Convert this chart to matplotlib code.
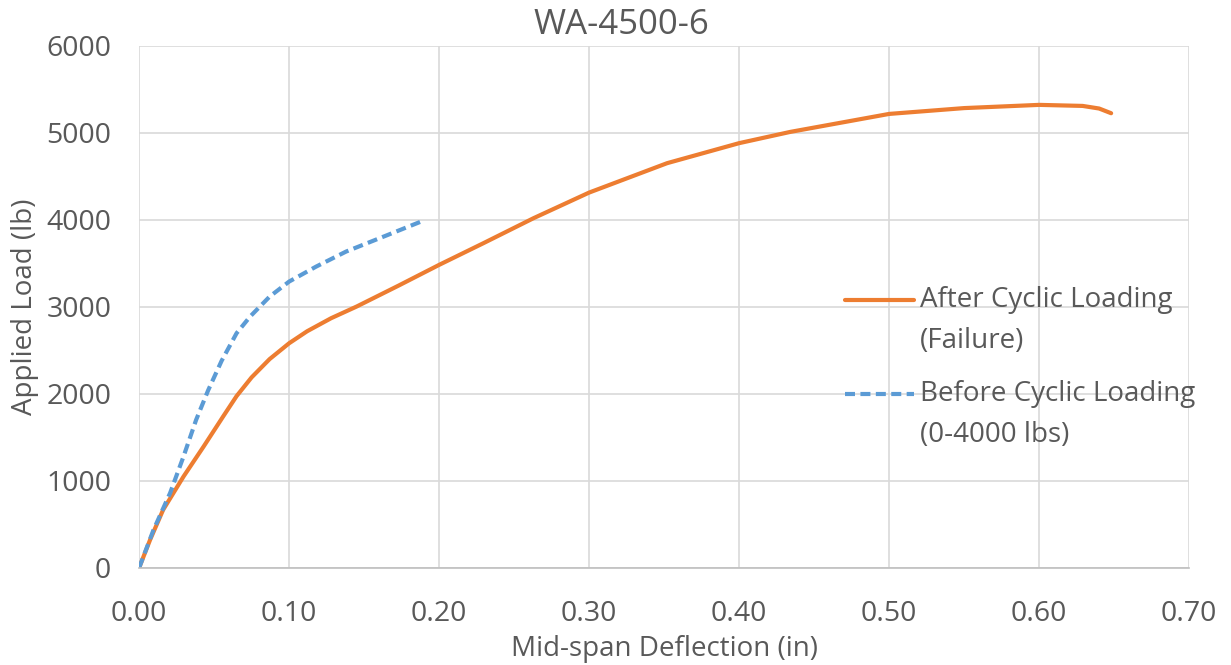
import matplotlib
matplotlib.use("Agg")
import numpy as np
import matplotlib.pyplot as plt
from matplotlib.ticker import FormatStrFormatter
from matplotlib.legend_handler import HandlerLine2D

plt.rcParams['font.family'] = ['Open Sans', 'DejaVu Sans']

# after cyclic loading (failure)
after_defl = [0.0, 0.0073, 0.016, 0.0296, 0.043, 0.056, 0.065, 0.075, 0.087, 0.100, 0.112,
              0.128, 0.145, 0.173, 0.200, 0.2295, 0.263, 0.30, 0.352, 0.40, 0.434, 0.50,
              0.55, 0.60, 0.629, 0.640, 0.648]
after_load = [0, 322, 667, 1050, 1395, 1740, 1975, 2190, 2400, 2582, 2720,
              2870, 3004, 3245, 3483, 3732, 4020, 4314, 4652, 4882, 5011, 5218,
              5285, 5322, 5310, 5280, 5226]

# before cyclic loading (0-4000 lbs)
before_defl = [0.0, 0.0096, 0.0207, 0.0296, 0.038, 0.046, 0.055, 0.065, 0.074, 0.087,
               0.100, 0.118, 0.138, 0.163, 0.188]
before_load = [0, 437, 862, 1280, 1701, 2040, 2380, 2698, 2889, 3118,
               3291, 3463, 3636, 3808, 3981]

txt = '#595959'


class FirstLineHandler(HandlerLine2D):
    # put the legend line next to the first text line, like excel does
    def __init__(self, dy, **kw):
        super().__init__(**kw)
        self.dy = dy

    def create_artists(self, legend, orig_handle, xdescent, ydescent, width, height,
                       fontsize, trans):
        arts = super().create_artists(legend, orig_handle, xdescent, ydescent, width,
                                      height, fontsize, trans)
        for a in arts:
            a.set_ydata(np.asarray(a.get_ydata()) + self.dy)
        return arts


fig = plt.figure(figsize=(12.31, 6.65), dpi=100)
ax = fig.add_axes([0.113, 0.146, 0.853, 0.785])

l1, = ax.plot(after_defl, after_load, color='#ED7D31', lw=3.0, solid_capstyle='round',
              label='After Cyclic Loading\n(Failure)')
l2, = ax.plot(before_defl, before_load, color='#5B9BD5', lw=3.0, ls=(0, (2.4, 1.3)),
              label='Before Cyclic Loading\n(0-4000 lbs)')

ax.set_xlim(0, 0.70)
ax.set_ylim(0, 6000)
ax.set_xticks([0.0, 0.1, 0.2, 0.3, 0.4, 0.5, 0.6, 0.7])
ax.set_yticks(range(0, 6001, 1000))
ax.xaxis.set_major_formatter(FormatStrFormatter('%.2f'))
ax.grid(True, color='#D9D9D9', lw=1.2)
ax.set_axisbelow(True)
for s in ['top', 'right', 'left']:
    ax.spines[s].set_visible(False)
ax.spines['bottom'].set_color('#BFBFBF')
ax.spines['bottom'].set_linewidth(1.2)
ax.tick_params(length=0, labelsize=20.5, colors=txt)
ax.tick_params(axis='x', pad=23)
ax.tick_params(axis='y', pad=20)

# title is centred on the whole chart, not the plot area
fig.text(621 / 1231, 1 - 24.5 / 665, 'WA-4500-6', fontsize=25, color=txt,
         ha='center', va='center')
ax.set_xlabel('Mid-span Deflection (in)', fontsize=20, color=txt, labelpad=5)
ax.set_ylabel('Applied Load (lb)', fontsize=20, color=txt, labelpad=5)

hm = {l1: FirstLineHandler(15.3), l2: FirstLineHandler(15.3)}
leg = ax.legend(handles=[l1, l2], loc='upper left', bbox_to_anchor=(845 / 1231, 1 - 286 / 665),
                bbox_transform=fig.transFigure, frameon=False, fontsize=20,
                handlelength=2.5, handletextpad=0.2, labelspacing=0.9,
                borderaxespad=0, borderpad=0, handler_map=hm)
for t in leg.get_texts():
    t.set_color(txt)
    t.set_linespacing(1.63)

fig.savefig('out.png', dpi=100, facecolor='white')
